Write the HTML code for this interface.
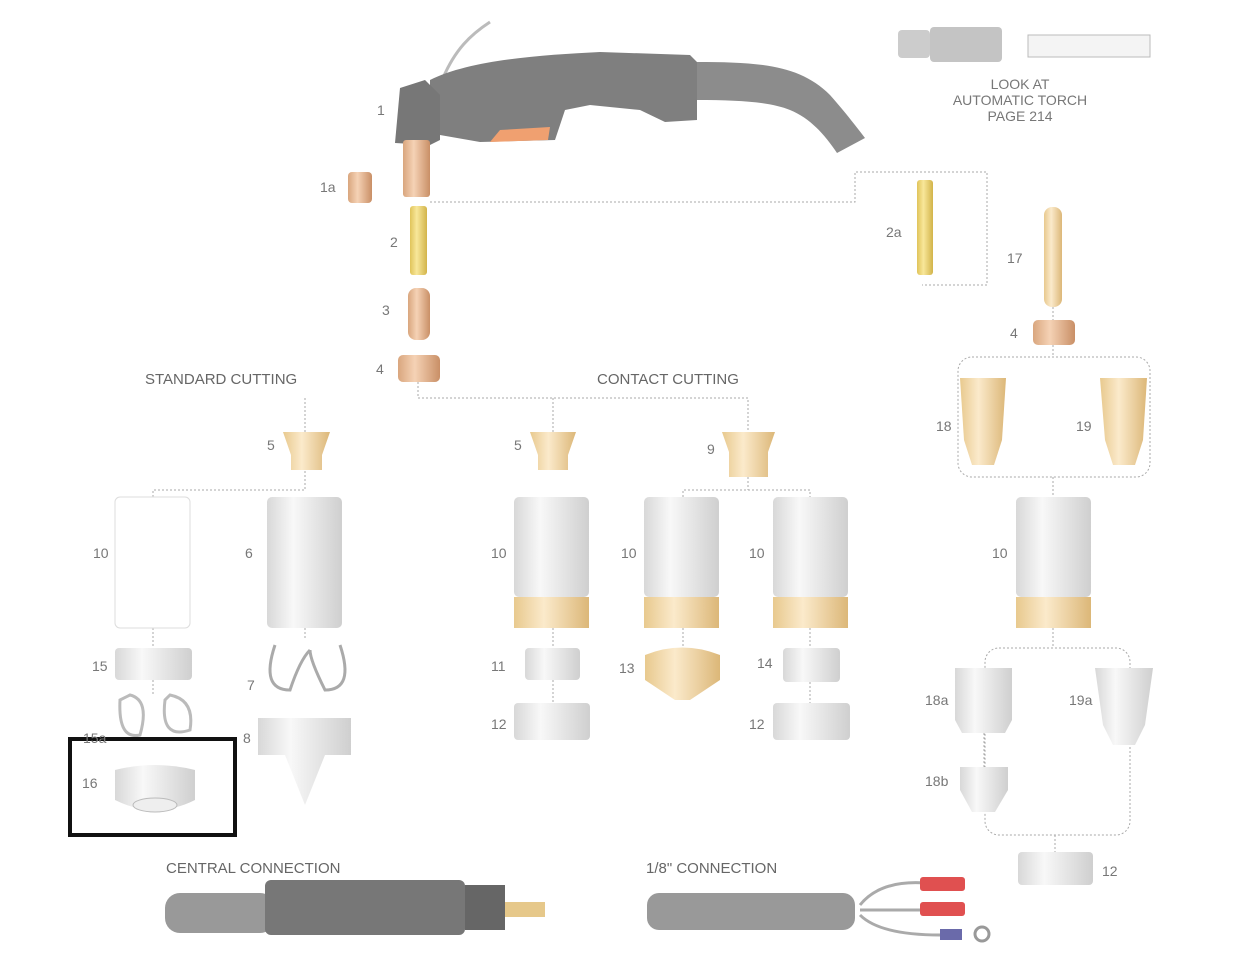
<!DOCTYPE html>
<html><head><meta charset="utf-8"><style>
html,body{margin:0;padding:0;background:#fff;}
svg{display:block}
text{font-family:"Liberation Sans",sans-serif;fill:#777;font-size:14px}
.h{font-size:15px;fill:#666}
</style></head><body>
<svg width="1235" height="966" viewBox="0 0 1235 966" xmlns="http://www.w3.org/2000/svg">
<defs>
<linearGradient id="cyl" x1="0" x2="1"><stop offset="0" stop-color="#d8d8d8"/><stop offset=".35" stop-color="#f8f8f8"/><stop offset="1" stop-color="#cfcfcf"/></linearGradient>
<linearGradient id="cu" x1="0" x2="1"><stop offset="0" stop-color="#d9a67e"/><stop offset=".4" stop-color="#f5d2b5"/><stop offset="1" stop-color="#c98f66"/></linearGradient>
<linearGradient id="br" x1="0" x2="1"><stop offset="0" stop-color="#e8c98e"/><stop offset=".4" stop-color="#fbeacb"/><stop offset="1" stop-color="#dcb778"/></linearGradient>
<linearGradient id="ye" x1="0" x2="1"><stop offset="0" stop-color="#e0c45a"/><stop offset=".4" stop-color="#f8e79a"/><stop offset="1" stop-color="#d2b44a"/></linearGradient>
</defs>
<g fill="none" stroke="#aaa" stroke-width="1" stroke-dasharray="2,2">
<path d="M418 382V398H748V432M305 398V432M553 398V432"/>
<path d="M153 497V490H305V470"/>
<path d="M683 497V490H810V497M748 477V490"/>
<path d="M430 202H855V172H987V285H922"/>
<path d="M1053 307V320M1053 345V357"/>
<rect x="958" y="357" width="192" height="120" rx="14"/>
<path d="M1053 477V497"/>
<path d="M1053 628V648"/>
<rect x="985" y="648" width="145" height="187" rx="14"/>
<path d="M1055 835V852M153 628V648M153 680V695M305 628V640M553 628V648M683 628V648M810 628V648M553 680V703M810 682V703M984 733V767"/>
</g>
<!-- torch -->
<path d="M443 78 C455 50 470 35 490 22" stroke="#bbb" stroke-width="3" fill="none"/>
<path d="M697 62 C760 62 800 65 830 95 C845 112 855 125 865 138 L837 153 C825 135 810 118 790 110 C770 102 740 100 697 100Z" fill="#8c8c8c"/>
<path d="M430 80 C470 60 540 55 600 52 L690 55 L697 62 L697 120 L665 122 L640 110 L590 105 L565 110 L555 140 L480 142 L440 135 L430 110Z" fill="#7f7f7f"/>
<path d="M500 130 L550 127 L548 140 L490 142Z" fill="#f0a070"/>
<path d="M400 88 L425 80 L440 95 L440 140 L430 145 L395 143Z" fill="#777"/>
<rect x="403" y="140" width="27" height="57" rx="3" fill="url(#cu)"/>
<!-- auto torch -->
<rect x="898" y="30" width="32" height="28" rx="4" fill="#ccc"/><rect x="930" y="27" width="72" height="35" rx="4" fill="#c4c4c4"/>
<rect x="1028" y="35" width="122" height="22" fill="#f4f4f4" stroke="#bbb"/>
<text x="1020" y="89" text-anchor="middle" font-size="13">LOOK AT</text>
<text x="1020" y="105" text-anchor="middle" font-size="13">AUTOMATIC TORCH</text>
<text x="1020" y="121" text-anchor="middle" font-size="13">PAGE 214</text>
<!-- parts -->
<rect x="348" y="172" width="24" height="31" rx="4" fill="url(#cu)"/>
<rect x="410" y="206" width="17" height="69" rx="3" fill="url(#ye)"/>
<rect x="408" y="288" width="22" height="52" rx="8" fill="url(#cu)"/>
<rect x="398" y="355" width="42" height="27" rx="5" fill="url(#cu)"/>
<rect x="917" y="180" width="16" height="95" rx="3" fill="url(#ye)"/>
<rect x="1044" y="207" width="18" height="100" rx="8" fill="url(#br)"/>
<rect x="1033" y="320" width="42" height="25" rx="5" fill="url(#cu)"/>
<path d="M960 378H1006L1002 440L994 465H972L964 440Z" fill="url(#br)"/>
<path d="M1100 378H1147L1143 440L1135 465H1113L1105 440Z" fill="url(#br)"/>
<path d="M283 432H330L322 455V470H291V455Z" fill="url(#br)"/>
<path d="M530 432H576L568 455V470H538V455Z" fill="url(#br)"/>
<path d="M722 432H775L768 452V477H729V452Z" fill="url(#br)"/>
<g>
<rect x="115" y="497" width="75" height="131" rx="5" fill="#fff" stroke="#ddd"/>
<rect x="267" y="497" width="75" height="131" rx="5" fill="url(#cyl)"/>
<rect x="514" y="497" width="75" height="100" rx="5" fill="url(#cyl)"/><rect x="514" y="597" width="75" height="31" fill="url(#br)"/>
<rect x="644" y="497" width="75" height="100" rx="5" fill="url(#cyl)"/><rect x="644" y="597" width="75" height="31" fill="url(#br)"/>
<rect x="773" y="497" width="75" height="100" rx="5" fill="url(#cyl)"/><rect x="773" y="597" width="75" height="31" fill="url(#br)"/>
<rect x="1016" y="497" width="75" height="100" rx="5" fill="url(#cyl)"/><rect x="1016" y="597" width="75" height="31" fill="url(#br)"/>
</g>
<rect x="115" y="648" width="77" height="32" rx="4" fill="url(#cyl)"/>
<path d="M120 700 Q118 740 140 735 Q150 700 130 695Z M165 700 Q160 740 190 730 Q195 700 170 695Z" fill="none" stroke="#bbb" stroke-width="3"/>
<path d="M275 645 Q260 690 290 690 Q300 660 310 650 M340 645 Q355 690 325 690 Q310 660 310 650" fill="none" stroke="#aaa" stroke-width="3"/>
<path d="M258 718H351V755H325L305 805L285 755H258Z" fill="url(#cyl)"/>
<rect x="525" y="648" width="55" height="32" rx="4" fill="url(#cyl)"/>
<rect x="514" y="703" width="76" height="37" rx="4" fill="url(#cyl)"/>
<path d="M645 655Q682 640 720 655V680L690 700H675L645 680Z" fill="url(#br)"/>
<rect x="783" y="648" width="57" height="34" rx="4" fill="url(#cyl)"/>
<rect x="773" y="703" width="77" height="37" rx="4" fill="url(#cyl)"/>
<path d="M955 668H1012V720L1005 733H962L955 720Z" fill="url(#cyl)"/>
<path d="M1095 668H1153L1145 725L1135 745H1113L1103 725Z" fill="url(#cyl)"/>
<path d="M960 767H1008V790L995 812H972L960 790Z" fill="url(#cyl)"/>
<rect x="1018" y="852" width="75" height="33" rx="4" fill="url(#cyl)"/>
<rect x="70" y="739" width="165" height="96" fill="none" stroke="#111" stroke-width="4"/>
<path d="M115 770Q155 760 195 770V800Q155 820 115 800Z" fill="url(#cyl)"/>
<ellipse cx="155" cy="805" rx="22" ry="7" fill="#eee" stroke="#bbb"/>
<!-- connections -->
<rect x="165" y="893" width="110" height="40" rx="15" fill="#999"/>
<rect x="265" y="880" width="200" height="55" rx="6" fill="#777"/>
<rect x="465" y="885" width="40" height="45" fill="#666"/>
<rect x="505" y="902" width="40" height="15" fill="#e6c88a"/>
<rect x="647" y="893" width="208" height="37" rx="12" fill="#999"/>
<path d="M860 905Q880 880 925 883M860 910H925M860 915Q880 935 940 935" stroke="#aaa" stroke-width="3" fill="none"/>
<rect x="920" y="877" width="45" height="14" rx="3" fill="#e05050"/>
<rect x="920" y="902" width="45" height="14" rx="3" fill="#e05050"/>
<rect x="940" y="929" width="22" height="11" fill="#6a6aaa"/><circle cx="982" cy="934" r="7" fill="none" stroke="#999" stroke-width="3"/>
<!-- labels -->
<text x="377" y="115">1</text><text x="320" y="192">1a</text><text x="390" y="247">2</text>
<text x="382" y="315">3</text><text x="376" y="374">4</text>
<text class="h" x="145" y="384">STANDARD CUTTING</text><text class="h" x="597" y="384">CONTACT CUTTING</text>
<text x="267" y="450">5</text><text x="514" y="450">5</text><text x="707" y="454">9</text>
<text x="93" y="558">10</text><text x="245" y="558">6</text><text x="491" y="558">10</text><text x="621" y="558">10</text><text x="749" y="558">10</text><text x="992" y="558">10</text>
<text x="92" y="671">15</text><text x="83" y="743">15a</text><text x="82" y="788" fill="#333">16</text>
<text x="247" y="690">7</text><text x="243" y="743">8</text>
<text x="491" y="671">11</text><text x="491" y="729">12</text><text x="619" y="673">13</text>
<text x="757" y="668">14</text><text x="749" y="729">12</text>
<text x="886" y="237">2a</text><text x="1007" y="263">17</text><text x="1010" y="338">4</text>
<text x="936" y="431">18</text><text x="1076" y="431">19</text>
<text x="925" y="705">18a</text><text x="1069" y="705">19a</text><text x="925" y="786">18b</text>
<text x="1102" y="876">12</text>
<text class="h" x="166" y="873">CENTRAL CONNECTION</text><text class="h" x="646" y="873">1/8" CONNECTION</text>
</svg>
</body></html>
